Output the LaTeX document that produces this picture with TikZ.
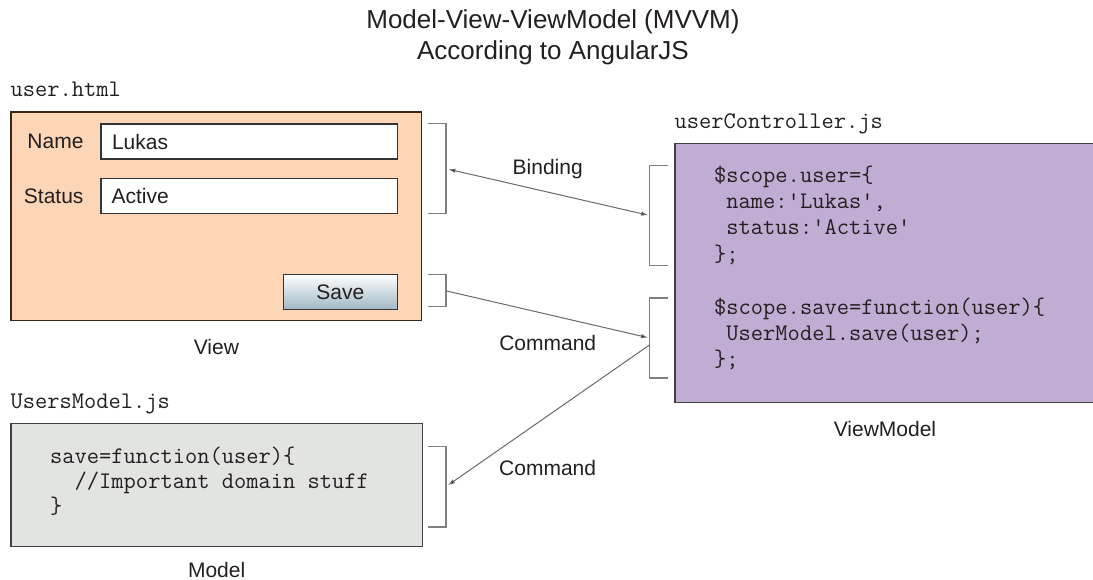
\documentclass[tikz,border=0pt]{standalone}
\usepackage{fontspec}
\setmainfont{Liberation Sans}
\usepackage{tikz}
\usetikzlibrary{positioning,arrows.meta}

\definecolor{peach}{RGB}{252,214,182}
\definecolor{lilac}{RGB}{192,173,211}
\definecolor{modelgray}{RGB}{225,228,224}
\definecolor{ink}{RGB}{35,31,32}
\definecolor{edgegray}{RGB}{128,128,128}
\definecolor{arrowgray}{RGB}{105,105,105}
\definecolor{btnblue}{RGB}{160,184,197}

\begin{document}
\begin{tikzpicture}[x=1pt,y=-1pt,>={Latex[length=7pt,width=4.5pt]},
		heading/.style={font=\fontsize{26}{31}\selectfont,text=ink,anchor=base},
		lbl/.style={font=\fontsize{21}{25}\selectfont,text=ink,inner sep=0pt},
		filename/.style={font=\ttfamily\fontsize{23.8}{26.4}\selectfont,text=ink,inner sep=0pt},
		codetext/.style={filename,align=left,anchor=base west},
		panel/.style={draw=#1,line width=1.3pt,inner sep=0pt},
		inputbox/.style={draw=black!80,line width=1.3pt,fill=white,inner sep=0pt,minimum width=296.3pt,minimum height=35pt},
		brspan/.style={inner sep=0pt,minimum width=17.7pt,minimum height=#1},
		bracket/.style={draw=edgegray,line width=1.2pt},
		conn/.style={draw=arrowgray,line width=1pt}]
		\useasboundingbox (0,0) rectangle (1093,580);
		% title
		\node[heading] (title) at (553,29) {Model-View-ViewModel (MVVM)};
		\node[heading] (subtitle) at (553,60) {According to AngularJS};
		% view
		\node[panel=black!70!brown,fill=peach,minimum width=410.7pt,minimum height=208.7pt] (view) at (216.35,216.35) {};
		\node[filename,above=15.3pt of view.north west,anchor=base west] (viewfile) {user.html};
		\node[inputbox] (namebox) at (249.15,141.5) {};
		\node[lbl,left=16.7pt of namebox] (namelbl) {Name};
		\node[lbl,right=11.5pt of namebox.west] (nameval) {Lukas};
		\node[inputbox] (statusbox) at (249.15,196.35) {};
		\node[lbl,left=16.7pt of statusbox] (statuslbl) {Status};
		\node[lbl,right=11pt of statusbox.west] (statusval) {Active};
		\node[inputbox,minimum width=114pt,top color=white,bottom color=btnblue,
			font=\fontsize{21}{25}\selectfont,text=ink] (savebtn) at (340.3,291.8) {Save};
		\node[lbl,below=17.6pt of view] (viewlbl) {View};
		% viewmodel (base anchor sits on the last code line)
		\node[panel=black!75,fill=lilac,minimum width=420pt,minimum height=259.4pt] (vm) at (885,273) {};
		\node[filename,above=14pt of vm.north west,anchor=base west] (vmfile) {userController.js};
		\node[codetext] (vmcode) at (714,366.8) {\$scope.user=\{\\
			\ name:\textquotesingle Lukas\textquotesingle,\\
			\ status:\textquotesingle Active\textquotesingle\\
			\};\\[26.4pt]
			\$scope.save=function(user)\{\\
			\ UserModel.save(user);\\
			\};};
		\node[lbl,below=17.5pt of vm] (vmlbl) {ViewModel};
		% model
		\node[panel=black!75,fill=modelgray,minimum width=411.3pt,minimum height=123.4pt] (model) at (216.65,485) {};
		\node[filename,above=14pt of model.north west,anchor=base west] (modelfile) {UsersModel.js};
		\node[codetext,font=\ttfamily\fontsize{23.8}{25}\selectfont] (modelcode) at (50,513.3) {save=function(user)\{\\
			\ \ //Important domain stuff\\
			\}};
		\node[lbl,below=15pt of model] (modellbl) {Model};
		% brackets
		\node[brspan=89.3pt] (bindv) at (436.85,168.65) {};
		\node[brspan=31.7pt] (savev) at (437,290.85) {};
		\node[brspan=80pt] (modelb) at (436.85,486.7) {};
		\node[brspan=99pt] (bindvm) at (658.65,215.5) {};
		\node[brspan=79.4pt] (cmdvm) at (658.5,338) {};
		\foreach \b in {bindv,savev,modelb}
			\draw[bracket] (\b.north west) -| (\b.south east) -- (\b.south west);
		\foreach \b in {bindvm,cmdvm}
			\draw[bracket] (\b.north east) -| (\b.south west) -- (\b.south east);
		% connectors
		\path[conn]
		(bindv.east) edge[<->,shorten <=2.5pt,shorten >=1.5pt] node[lbl,above=13pt] {Binding} (bindvm.west)
		(savev.east) edge[->,shorten >=1.5pt] node[lbl,below=20pt] {Command} (cmdvm.west)
		([yshift=-7pt]cmdvm.west) edge[->,shorten >=2.5pt] node[lbl,below=44pt] {Command} (modelb.east);
\end{tikzpicture}
\end{document}
